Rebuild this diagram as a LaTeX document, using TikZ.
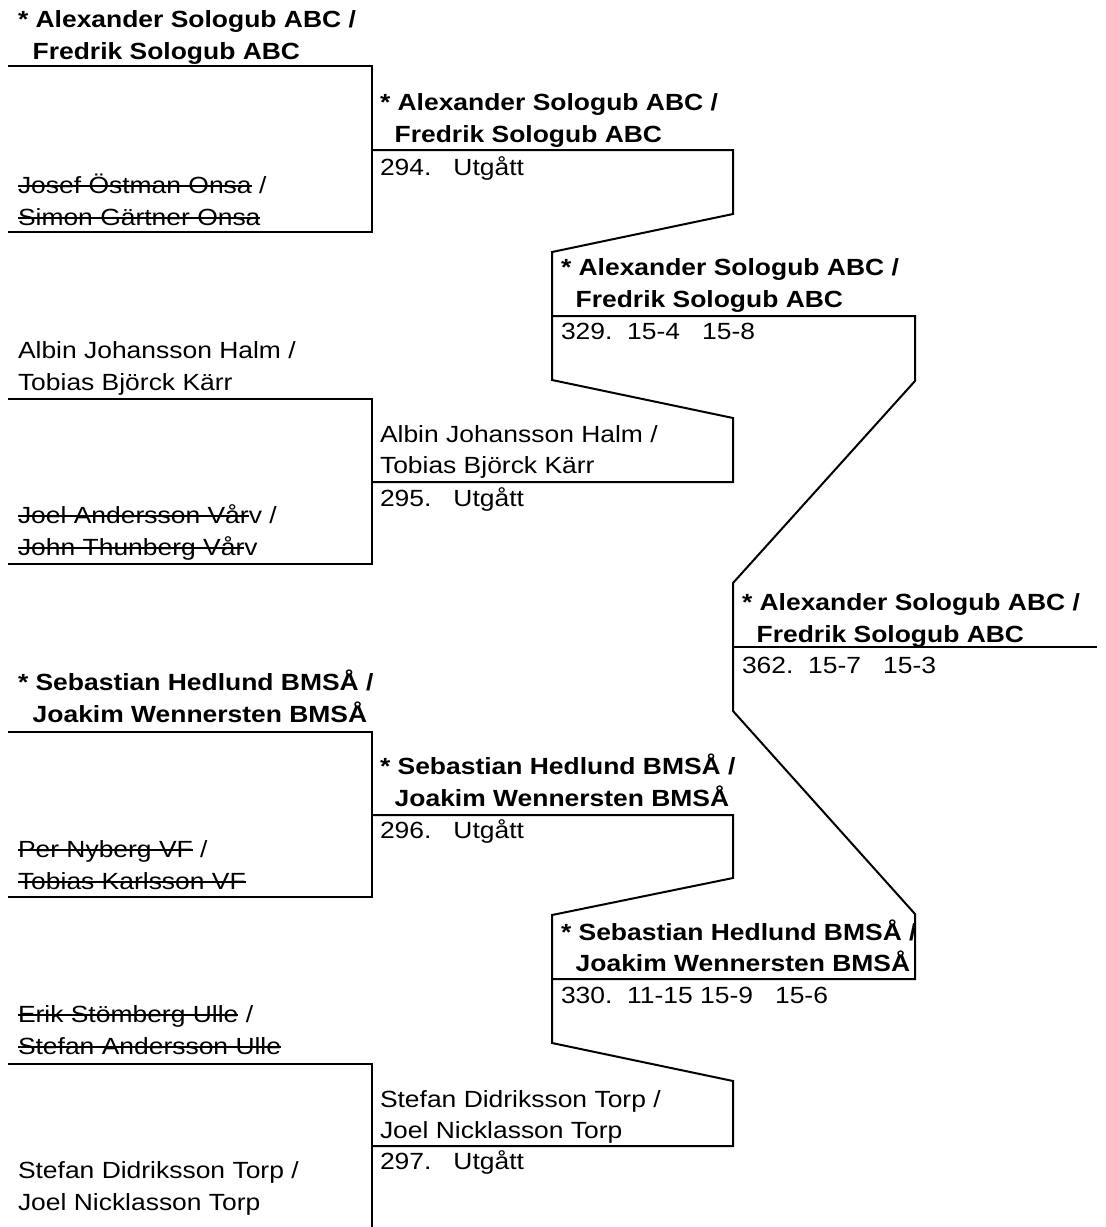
\documentclass[tikz,border=0pt]{standalone}
\usepackage{fontspec}
\setmainfont{Liberation Sans}[FakeStretch=1.13]
\newsavebox\strkbox
\newcommand\strk[1]{\sbox\strkbox{#1}\rlap{\rule[0.48ex]{\wd\strkbox}{1.6pt}}\usebox\strkbox}
\newcommand\spc[1]{\hspace*{#1\fontdimen2\font}}
\begin{document}
\begin{tikzpicture}[x=1pt,y=1pt,
  txt/.style={anchor=base west, inner sep=0pt, outer sep=0pt, font=\fontsize{23.4}{32}\selectfont},
  win/.style={txt, font=\fontsize{23.4}{32}\selectfont\bfseries},
  bracket/.style={draw=black, line width=2pt, line join=miter}]
\useasboundingbox (0,0) rectangle (1106,-1227);

% ---------- junction coordinates ----------
% round 1
\coordinate (m1a) at (8,-66);   \coordinate (m1b) at (8,-232);
\coordinate (m2a) at (8,-399);  \coordinate (m2b) at (8,-564);
\coordinate (m3a) at (8,-732);  \coordinate (m3b) at (8,-897);
\coordinate (m4a) at (8,-1064); \coordinate (m4b) at (372,-1240);
% round 2
\coordinate (r294) at (372,-150);  \coordinate (e294) at (733,-150);
\coordinate (r295) at (372,-482);  \coordinate (e295) at (733,-482);
\coordinate (r296) at (372,-815);  \coordinate (e296) at (733,-815);
\coordinate (r297) at (372,-1146); \coordinate (e297) at (733,-1146);
% round 3
\coordinate (r329) at (552,-316);  \coordinate (e329) at (915,-316);
\coordinate (r330) at (552,-979);  \coordinate (e330) at (915,-979);
% round 4
\coordinate (r362) at (733,-647);  \coordinate (e362) at (1097,-647);

% ---------- bracket lines ----------
\draw[bracket] (m1a) -| (372,-232) -- (m1b);
\draw[bracket] (m2a) -| (372,-564) -- (m2b);
\draw[bracket] (m3a) -| (372,-897) -- (m3b);
\draw[bracket] (m4a) -| (m4b);

\draw[bracket] (r294) -- (e294) -- (733,-214) -- (552,-252) -- (552,-380)
  -- (733,-418) -- (e295) -- (r295);
\draw[bracket] (r296) -- (e296) -- (733,-878) -- (552,-915) -- (552,-1043)
  -- (733,-1081) -- (e297) -- (r297);
\draw[bracket] (r329) -- (e329) -- (915,-381) -- (733,-583) -- (733,-711)
  -- (915,-914) -- (e330) -- (r330);
\draw[bracket] (r362) -- (e362);

% ---------- round 1 texts ----------
\node[win] (t1a) at (18,-27) {* Alexander Sologub ABC /};
\node[win] (t1b) at (18,-59) {\spc{2}Fredrik Sologub ABC};
\node[txt] (t2a) at (18,-193) {\strk{Josef Östman Onsa} /};
\node[txt] (t2b) at (18,-225) {\strk{Simon Gärtner Onsa}};
\node[txt] (t3a) at (18,-358) {Albin Johansson Halm /};
\node[txt] (t3b) at (18,-390) {Tobias Björck Kärr};
\node[txt] (t4a) at (18,-523) {\strk{Joel Andersson Vår}v /};
\node[txt] (t4b) at (18,-555) {\strk{John Thunberg Vår}v};
\node[win] (t5a) at (18,-690) {* Sebastian Hedlund BMSÅ /};
\node[win] (t5b) at (18,-722) {\spc{2}Joakim Wennersten BMSÅ};
\node[txt] (t6a) at (18,-857) {\strk{Per Nyberg VF} /};
\node[txt] (t6b) at (18,-889) {\strk{Tobias Karlsson VF}};
\node[txt] (t7a) at (18,-1022) {\strk{Erik Stömberg Ulle} /};
\node[txt] (t7b) at (18,-1054) {\strk{Stefan Andersson Ulle}};
\node[txt] (t8a) at (18,-1178) {Stefan Didriksson Torp /};
\node[txt] (t8b) at (18,-1210) {Joel Nicklasson Torp};

% ---------- round 2 texts ----------
\node[win] (w294a) at (380,-110) {* Alexander Sologub ABC /};
\node[win] (w294b) at (380,-142) {\spc{2}Fredrik Sologub ABC};
\node[txt] (s294) at (380,-175) {294.\spc{3}Utgått};
\node[txt] (w295a) at (380,-442) {Albin Johansson Halm /};
\node[txt] (w295b) at (380,-473) {Tobias Björck Kärr};
\node[txt] (s295) at (380,-506) {295.\spc{3}Utgått};
\node[win] (w296a) at (380,-774) {* Sebastian Hedlund BMSÅ /};
\node[win] (w296b) at (380,-806) {\spc{2}Joakim Wennersten BMSÅ};
\node[txt] (s296) at (380,-838) {296.\spc{3}Utgått};
\node[txt] (w297a) at (380,-1107) {Stefan Didriksson Torp /};
\node[txt] (w297b) at (380,-1138) {Joel Nicklasson Torp};
\node[txt] (s297) at (380,-1169) {297.\spc{3}Utgått};

% ---------- round 3 texts ----------
\node[win] (w329a) at (561,-275) {* Alexander Sologub ABC /};
\node[win] (w329b) at (561,-307) {\spc{2}Fredrik Sologub ABC};
\node[txt] (s329) at (561,-339) {329.\spc{2}15-4\spc{3}15-8};
\node[win] (w330a) at (561,-940) {* Sebastian Hedlund BMSÅ /};
\node[win] (w330b) at (561,-971) {\spc{2}Joakim Wennersten BMSÅ};
\node[txt] (s330) at (561,-1003) {330.\spc{2}11-15\spc{1}15-9\spc{3}15-6};

% ---------- round 4 texts ----------
\node[win] (w362a) at (742,-610) {* Alexander Sologub ABC /};
\node[win] (w362b) at (742,-642) {\spc{2}Fredrik Sologub ABC};
\node[txt] (s362) at (742,-673) {362.\spc{2}15-7\spc{3}15-3};
\end{tikzpicture}
\end{document}
